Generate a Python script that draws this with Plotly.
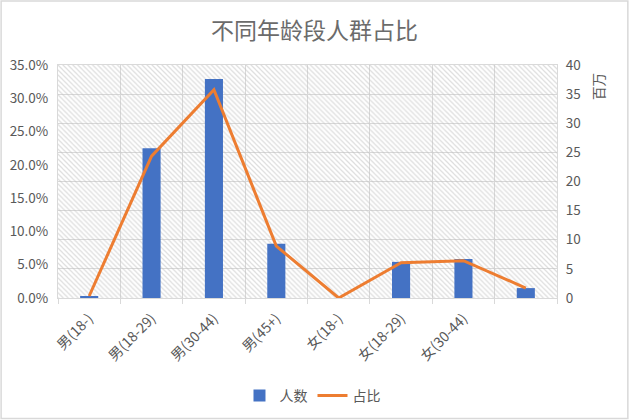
import plotly.graph_objects as go

categories = ["男(18-)", "男(18-29)", "男(30-44)", "男(45+)", "女(18-)", "女(18-29)", "女(30-44)", "女(45+)"]
tick_labels = ["男(18-)", "男(18-29)", "男(30-44)", "男(45+)", "女(18-)", "女(18-29)", "女(30-44)", ""]
people_millions = [0.3, 25.7, 37.6, 9.3, 0.0, 6.2, 6.7, 1.7]
share = [0.003, 0.213, 0.313, 0.078, 0.0, 0.053, 0.056, 0.015]

FONT = "Noto Sans CJK SC"
GRAY = "#595959"
GRID = "#d9d9d9"

fig = go.Figure()

# hatched plot-area background (decoration)
fig.add_trace(go.Bar(
    x=categories, y=[1] * len(categories), width=1,
    marker=dict(color="rgba(0,0,0,0)", line=dict(width=0),
                pattern=dict(shape="\\", fgcolor="#bdbdbd", bgcolor="rgba(0,0,0,0)", size=3.5, solidity=0.35)),
    yaxis="y", hoverinfo="skip", showlegend=False,
))

fig.add_trace(go.Bar(
    x=categories, y=people_millions, name="人数", width=0.29,
    marker=dict(color="#4472C4", line=dict(width=0)),
    yaxis="y2",
))

fig.add_trace(go.Scatter(
    x=categories, y=share, name="占比", mode="lines",
    line=dict(color="#ED7D31", width=3),
    yaxis="y3",
))

fig.update_layout(
    width=629, height=420,
    margin=dict(l=58, r=72, t=65, b=122, autoexpand=False),
    paper_bgcolor="white", plot_bgcolor="white",
    barmode="overlay",
    font=dict(family=FONT, color=GRAY, size=13),
    title=dict(text="不同年龄段人群占比", x=0.5, xanchor="center", y=0.926, yanchor="middle",
               font=dict(family=FONT, size=23, color="#6b6b6b")),
    xaxis=dict(
        type="category", range=[-0.5, 7.5], automargin=False,
        tickvals=categories, ticktext=tick_labels, tickangle=-45,
        tickson="boundaries", ticks="outside", ticklen=5, tickcolor=GRID,
        ticklabelstandoff=6,
        showgrid=True, gridcolor=GRID, gridwidth=1,
        showline=True, linecolor=GRID, linewidth=1, mirror=True,
        tickfont=dict(family=FONT, size=14, color=GRAY),
    ),
    yaxis=dict(visible=False, range=[0, 1], fixedrange=True, automargin=False),
    yaxis2=dict(
        overlaying="y", side="right", range=[0, 40], dtick=5, automargin=False,
        ticklabelstandoff=5,
        showgrid=True, gridcolor=GRID, gridwidth=1, zeroline=False,
        showline=True, linecolor=GRID, linewidth=1,
        tickfont=dict(family=FONT, size=13.5, color=GRAY),
    ),
    yaxis3=dict(
        overlaying="y", side="left", range=[0, 0.35], dtick=0.05, tickformat=".1%",
        automargin=False, showgrid=False, zeroline=False, ticklabelstandoff=6,
        showline=True, linecolor=GRID, linewidth=1,
        tickfont=dict(family=FONT, size=13.5, color=GRAY),
    ),
    legend=dict(orientation="h", x=0.51, xanchor="center", y=-0.42, yanchor="middle",
                font=dict(family=FONT, size=14, color=GRAY), traceorder="normal"),
    annotations=[dict(text="百万", xref="paper", yref="paper", x=1.082, y=0.91,
                      xanchor="center", yanchor="middle",
                      textangle=-90, showarrow=False, font=dict(family=FONT, size=13.5, color=GRAY))],
    shapes=[dict(type="rect", xref="paper", yref="paper",
                 x0=-0.114, x1=1.142, y0=-0.517, y1=1.275,
                 line=dict(color=GRID, width=1.5), fillcolor="rgba(0,0,0,0)", layer="below")],
)

fig.write_html(
    "out.html", config={"displayModeBar": False},
    post_script=("document.body.style.margin='0';"
                 "document.body.style.overflow='hidden';"
                 "document.documentElement.style.overflow='hidden';"),
)
